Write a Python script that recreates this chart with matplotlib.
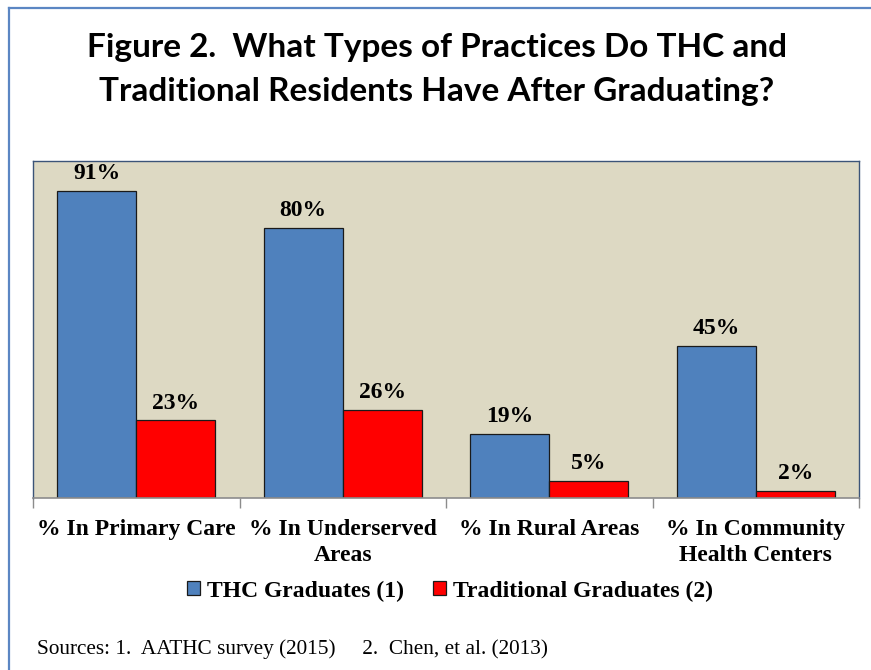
import matplotlib
matplotlib.use('Agg')
import matplotlib.pyplot as plt
import numpy as np
from matplotlib.patches import Patch

# Data
categories = ['% In Primary Care', '% In Underserved\nAreas', '% In Rural Areas',
              '% In Community\nHealth Centers']
thc = [91, 80, 19, 45]
traditional = [23, 26, 5, 2]
series_names = ['THC Graduates (1)', 'Traditional Graduates (2)']

blue = '#4F81BD'
red = '#FF0000'
serif = 'Liberation Serif'

W, H = 871, 670
fig = plt.figure(figsize=(W / 100, H / 100), dpi=100)

# outer blue frame (only left and top visible in crop)
fig.add_artist(plt.Line2D([9 / W, 9 / W], [0, 1 - 8 / H], color='#5B86C3', lw=1.6))
fig.add_artist(plt.Line2D([9 / W, 1], [1 - 8 / H, 1 - 8 / H], color='#5B86C3', lw=1.6))

# title
fig.text(437 / W, 1 - 47 / H, 'Figure 2.  What Types of Practices Do THC and',
         ha='center', va='center', fontsize=24, fontweight='bold', family='Lato')
fig.text(437 / W, 1 - 92 / H, 'Traditional Residents Have After Graduating?',
         ha='center', va='center', fontsize=24, fontweight='bold', family='Lato')

ax = fig.add_axes([33 / W, (H - 498) / H, 826 / W, 337 / H])
ax.set_facecolor('#DDD9C3')

x = np.arange(len(categories))
width = 0.383
b1 = ax.bar(x - width / 2, thc, width, color=blue, edgecolor='#1a1a1a', linewidth=0.9, zorder=2)
b2 = ax.bar(x + width / 2, traditional, width, color=red, edgecolor='#1a1a1a', linewidth=0.9, zorder=2)

for bars, vals in ((b1, thc), (b2, traditional)):
    for rect, v in zip(bars, vals):
        ax.annotate(f'{v}%', (rect.get_x() + rect.get_width() / 2, rect.get_height()),
                    xytext=(0, 5), textcoords='offset points', ha='center', va='bottom',
                    fontsize=17, fontweight='bold', family=serif)

ax.set_xlim(-0.5, len(categories) - 0.5)
ax.set_ylim(0, 100)
ax.set_yticks([])

ax.set_xticks(x)
ax.set_xticklabels(categories, fontsize=17, fontweight='bold', family=serif, linespacing=1.3)
ax.tick_params(axis='x', which='major', length=0, pad=15)
ax.set_xticks(np.arange(len(categories) + 1) - 0.5, minor=True)
ax.tick_params(axis='x', which='minor', length=7, color='#8c8c8c', width=1)

for side in ('left', 'top', 'right'):
    ax.spines[side].set_color('#3B5478')
    ax.spines[side].set_linewidth(1.0)
ax.spines['bottom'].set_color('#8c8c8c')
ax.spines['bottom'].set_linewidth(1.2)

handles = [Patch(facecolor=blue, edgecolor='#1a1a1a', linewidth=0.9),
           Patch(facecolor=red, edgecolor='#1a1a1a', linewidth=0.9)]
fig.legend(handles, series_names, loc='center', bbox_to_anchor=(450 / W, 1 - 591 / H),
           ncol=2, frameon=False, handlelength=0.55, handleheight=0.55, handletextpad=0.3,
           columnspacing=1.2, prop={'family': serif, 'weight': 'bold', 'size': 17})

fig.text(37 / W, 1 - 649 / H, 'Sources: 1.  AATHC survey (2015)     2.  Chen, et al. (2013)',
         ha='left', va='center', fontsize=15.3, family=serif)

fig.savefig('out.png', dpi=100, facecolor='white')
